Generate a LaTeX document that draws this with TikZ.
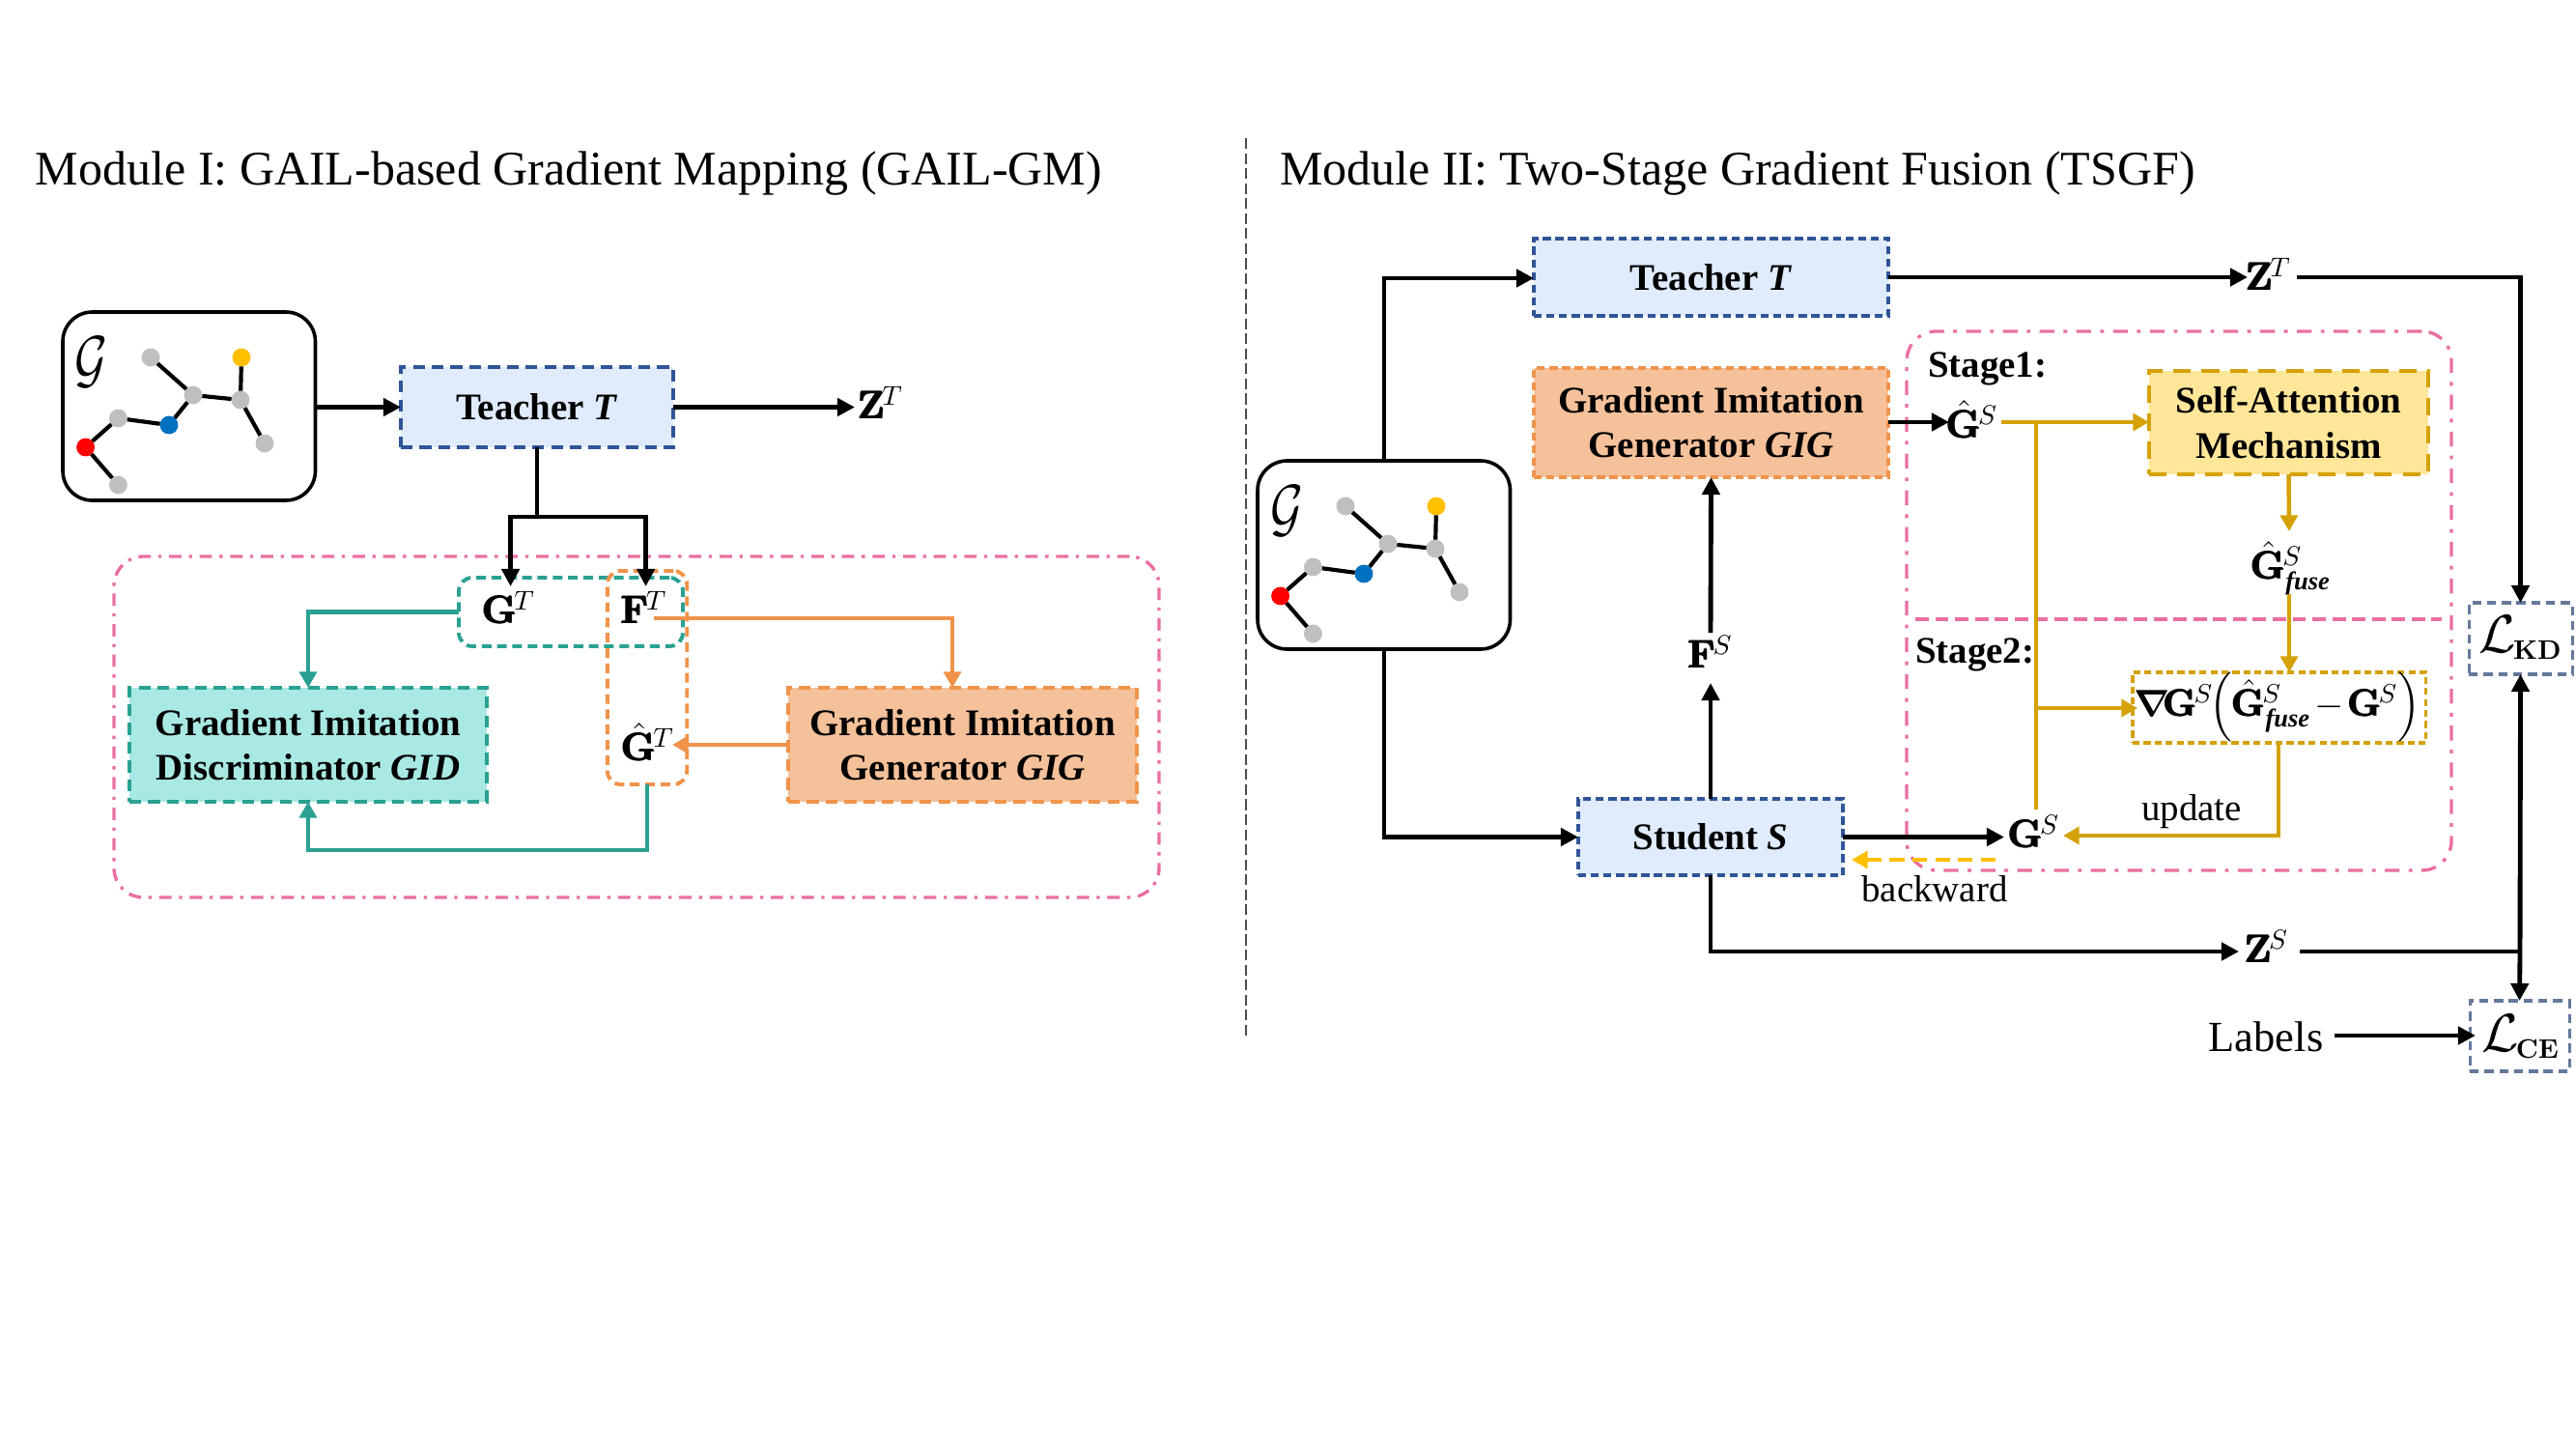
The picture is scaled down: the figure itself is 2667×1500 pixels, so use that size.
\RequirePackage{fix-cm}
\documentclass[tikz,border=0pt]{standalone}
\usepackage{amsmath}
\usepackage[no-math]{fontspec}
\setmainfont{Liberation Serif}
\usetikzlibrary{arrows.meta,calc}
\definecolor{cpink}{HTML}{EA6FA0}
\definecolor{cteal}{HTML}{2AA192}
\definecolor{ctealf}{HTML}{A9E9E3}
\definecolor{corange}{HTML}{F0934A}
\definecolor{corangef}{HTML}{F5C19A}
\definecolor{cblue}{HTML}{2F5597}
\definecolor{cbluef}{HTML}{E0EBFD}
\definecolor{cgold}{HTML}{D4A106}
\definecolor{cgoldf}{HTML}{FFE699}
\definecolor{cyel}{HTML}{FFC000}
\definecolor{cslate}{HTML}{64799B}
\definecolor{cgray}{HTML}{BFBFBF}
\definecolor{cnblue}{HTML}{0070C0}
\newcommand{\bsym}[1]{\pmb{\mathbf{#1}}}
\newcommand{\hsym}{{\smash[t]{\hat{\pmb{\mathbf{G}}}}}}
\newcommand{\fusesub}{\mbox{\bfseries\itshape\fontsize{9.5}{10}\selectfont fuse}}
\newcommand{\lossL}[1]{{\fontsize{20}{22}\selectfont$\mathcal{L}$}\kern-1pt\raisebox{-2.4pt}{\fontsize{10}{11}\selectfont$\mathbf{#1}$}}
\tikzset{
  sz/.style 2 args={minimum width=#1*0.36pt,minimum height=#2*0.36pt,inner sep=0pt,outer sep=0pt},
  dbox/.style={line width=1.1pt,dash pattern=on 4.4pt off 2.6pt,align=center,font=\bfseries\fontsize{14}{16.6}\selectfont},
  fine/.style={line width=1.2pt,dash pattern=on 3pt off 1.7pt},
  bluebox/.style={dbox,draw=cblue,fill=cbluef},
  oranbox/.style={dbox,draw=corange,fill=corangef},
  tealbox/.style={dbox,draw=cteal,fill=ctealf},
  goldbox/.style={dbox,draw=cgold,fill=cgoldf,line width=1.6pt,dash pattern=on 6.5pt off 4pt},
  mathbox/.style={line width=1.1pt,dash pattern=on 2.6pt off 1.5pt,draw=cgold},
  lossbox/.style={line width=1.1pt,dash pattern=on 3.4pt off 2.1pt,draw=cslate},
  pinkbox/.style={draw=cpink,line width=1.2pt,rounded corners=11pt,dash pattern=on 4.6pt off 2.8pt on 1.2pt off 2.8pt},
  tealround/.style={draw=cteal,line width=1.4pt,rounded corners=5pt,dash pattern=on 3.6pt off 2.1pt},
  oranround/.style={draw=corange,line width=1.4pt,rounded corners=5pt,dash pattern=on 3.6pt off 2.1pt},
  sym/.style={inner sep=0pt,outer sep=0pt,font=\fontsize{14.5}{16}\selectfont},
  lbl/.style={inner sep=0pt,outer sep=0pt,font=\fontsize{14}{16}\selectfont},
  title/.style={inner sep=0pt,outer sep=0pt,anchor=west,font=\fontsize{18}{20}\selectfont},
  blk/.style={line width=1.75pt,-{Triangle[length=6.5pt,width=6.5pt]}},
  blkn/.style={line width=1.75pt},
  tealar/.style={draw=cteal,line width=1.5pt,-{Triangle[length=6pt,width=6.4pt]}},
  oranar/.style={draw=corange,line width=1.5pt,-{Triangle[length=6pt,width=6.4pt]}},
  goldar/.style={draw=cgold,line width=1.6pt,-{Triangle[length=6pt,width=6.4pt]}},
  goldn/.style={draw=cgold,line width=1.6pt},
  atom/.style={circle,minimum size=6.8pt,inner sep=0pt,outer sep=0pt,fill=#1},
  bond/.style={line width=1.5pt},
  gbox/.style={draw=black,line width=1.3pt,rounded corners=11pt,fill=white}
}
\newcommand{\molgraph}[3]{%
\begin{scope}[shift={(#2,#3)}]
  \node[gbox,sz={261.5}{195}] (#1) at (195.75,420.5) {};
  \node[sym,font=\fontsize{24}{26}\selectfont,xscale=0.78] (#1l) at (95,375) {$\mathcal{G}$};
  \node[atom=cgray] (#1a) at (156,370) {};
  \node[atom=cyel] (#1b) at (250,370) {};
  \node[atom=cgray] (#1c) at (200,409) {};
  \node[atom=cgray] (#1d) at (249,414) {};
  \node[atom=cgray] (#1e) at (274,459) {};
  \node[atom=cgray] (#1f) at (122.4,433) {};
  \node[atom=cnblue] (#1g) at (175,440) {};
  \node[atom=red] (#1h) at (88.6,463) {};
  \node[atom=cgray] (#1i) at (122.4,502) {};
  \draw[bond] (#1a) -- (#1c);
  \draw[bond] (#1b) -- (#1d);
  \draw[bond] (#1c) -- (#1d);
  \draw[bond] (#1d) -- (#1e);
  \draw[bond] (#1c) -- (#1g);
  \draw[bond] (#1f) -- (#1g);
  \draw[bond] (#1f) -- (#1h);
  \draw[bond] (#1h) -- (#1i);
\end{scope}}
\begin{document}
\begin{tikzpicture}[x=0.36pt,y=-0.36pt]
\useasboundingbox (0,0) rectangle (2667,1500);
% titles and divider
\node[title] (ttl) at (37,180) {Module I: GAIL-based Gradient Mapping (GAIL-GM)};
\node[title] (ttr) at (1325,180) {Module II: Two-Stage Gradient Fusion (TSGF)};
\coordinate (divt) at (1290,143);
\coordinate (divb) at (1290,1072);
\draw[black!70,line width=0.5pt,dash pattern=on 4pt off 1.6pt] (divt) -- (divb);
% ---------- left ----------
\node[pinkbox,sz={1082}{353}] (pl) at (659,752.5) {};
\molgraph{ga}{0}{0}
\node[bluebox,sz={282}{83}] (t1) at (556,421.5) {Teacher \textit{T}};
\node[tealbox,sz={370}{118}] (gid) at (319,771) {Gradient Imitation\\Discriminator \textit{GID}};
\node[oranbox,sz={361}{118}] (gig1) at (996.5,771) {Gradient Imitation\\Generator \textit{GIG}};
\node[sym] (zt1) at (912,417) {$\bsym{Z}^{\mkern-2mu T}$};
\node[tealround,sz={232}{71}] (gf) at (591,633.5) {};
\node[oranround,sz={82.4}{221}] (fg) at (670,701.5) {};
\node[sym] (gt) at (527,629) {$\bsym{G}^{\mkern-2mu T}$};
\node[sym] (ft) at (667,629) {$\bsym{F}^{\mkern-2mu T}$};
\node[sym] (ght) at (671,771) {$\hsym^{\mkern-2mu T}$};
\coordinate (a1) at (885,421.5);
\coordinate (tb) at (556,535);
\coordinate (gte) at (528.6,607);
\coordinate (fte) at (668.6,607);
\coordinate (fto) at (677,640);
\coordinate (gign) at (986,712);
\coordinate (ghe) at (696,771);
\coordinate (tb2) at (670,880);
\draw[blk] (ga.east |- t1.west) -- (t1.west);
\draw[blk] (t1.east) -- (a1);
\draw[blkn] (t1.south) -- (tb);
\draw[blk] (tb) -| (gte);
\draw[blk] (tb) -| (fte);
\draw[tealar] (gf.west) -| (gid.north);
\draw[oranar] (fto) -| (gign);
\draw[oranar] (gig1.west |- ghe) -- (ghe);
\draw[tealar] (fg.south) -- (tb2) -| (gid.south);
% ---------- right ----------
\node[pinkbox,dash pattern=on 5.5pt off 3.4pt on 1.4pt off 3.4pt,sz={564}{558}] (pr) at (2256,622) {};
\coordinate (sl) at (1983,641);
\coordinate (sr) at (2528,641);
\draw[cpink,line width=1.3pt,dash pattern=on 5pt off 2.4pt] (sl) -- (sr);
\molgraph{gb}{1237}{154}
\node[bluebox,fine,sz={367}{80}] (t2) at (1771.5,287) {Teacher \textit{T}};
\node[oranbox,fine,sz={367}{113}] (gig2) at (1771.5,437.5) {Gradient Imitation\\Generator \textit{GIG}};
\node[bluebox,fine,sz={274}{79}] (st) at (1771,866.5) {Student \textit{S}};
\node[goldbox,sz={289}{107}] (sa) at (2369.5,437.5) {Self-Attention\\Mechanism};
\node[mathbox,sz={303.5}{73}] (nab) at (2359.7,732.5) {};
\node[sym,font=\fontsize{14}{16}\selectfont] (nabt) at (2358,732) {$\boldsymbol{\nabla}\mkern-3mu\bsym{G}^{\mkern-2mu S}\mkern-2mu\Bigl(\hsym^{\mkern-2mu S}_{\fusesub}\mkern-2mu-\mkern-2mu\bsym{G}^{\mkern-2mu S}\Bigr)$};
\node[lossbox,sz={107}{74}] (lkd) at (2609.5,661) {};
\node[sym] (lkdt) at (2609,660) {\lossL{KD}};
\node[lossbox,sz={103}{73}] (lce) at (2608.5,1072.5) {};
\node[sym] (lcet) at (2609,1073) {\lossL{CE}};
\node[sym] (zt2) at (2349,284) {$\bsym{Z}^{\mkern-2mu T}$};
\node[sym] (zs) at (2347,980) {$\bsym{Z}^{\mkern-2mu S}$};
\node[sym] (fs) at (1771,675) {$\bsym{F}^{\mkern-2mu S}$};
\node[sym] (gs) at (2106,861) {$\bsym{G}^{\mkern-2mu S}$};
\node[sym] (ghs) at (2042,437) {$\hsym^{\mkern-2mu S}$};
\node[sym] (ghf) at (2372,591) {$\hsym^{\mkern-2mu S}_{\fusesub}$};
\node[lbl,font=\bfseries\fontsize{14}{16}\selectfont,anchor=west] (s1) at (1996,382) {Stage1:};
\node[lbl,font=\bfseries\fontsize{14}{16}\selectfont,anchor=west] (s2) at (1983,678) {Stage2:};
\node[lbl] (upd) at (2269,840) {update};
\node[lbl] (bw) at (2003,920) {backward};
\node[lbl,font=\fontsize{16}{18}\selectfont] (lab) at (2346,1073) {Labels};
% connectors right
\coordinate (up) at (1433,288);
\coordinate (zt2in) at (2327,287);
\coordinate (zt2out) at (2378,287);
\coordinate (dn) at (1433,866.5);
\coordinate (fsb) at (1771,707);
\coordinate (fst) at (1771,655);
\coordinate (gse) at (2075,866.5);
\coordinate (gsr) at (2136,865);
\coordinate (bw1) at (2066,890);
\coordinate (bw2) at (1917,890);
\coordinate (g0) at (2072,437);
\coordinate (g1) at (2108,437);
\coordinate (g2) at (2108,838);
\coordinate (g3) at (2108,733);
\coordinate (g4) at (2213,733);
\coordinate (h1) at (2018,437);
\coordinate (d1) at (2370,550);
\coordinate (d2) at (2370,615);
\coordinate (u1) at (2359,865);
\coordinate (u0) at (2359,769);
\coordinate (zb) at (1771,985);
\coordinate (zsin) at (2318,985);
\coordinate (zsout) at (2381,985);
\coordinate (zj) at (2609,985);
\coordinate (lbo) at (2417,1072);
\coordinate (lbe) at (2563,1072);
\draw[blk] (gb.north -| up) -- (up) -- (t2.west |- up);
\draw[blk] (gb.south -| dn) -- (dn) -- (st.west);
\draw[blk] (t2.east) -- (zt2in);
\draw[blk] (zt2out) -| (lkd.north);
\draw[blk] (gig2.east |- h1) -- (h1);
\draw[blk] (st.north) -- (fsb);
\draw[blk] (fst) -- (gig2.south);
\draw[blk] (st.east) -- (gse);
\draw[blk] (st.south) -- (zb) -- (zsin);
\draw[blkn] (zsout) -- (zj);
\draw[blk] (zj) -- (lkd.south);
\draw[blk] (zj) -- (lce.north);
\draw[blk] (lbo) -- (lbe);
\draw[goldar] (g0) -- (g0 -| sa.west);
\draw[goldn] (g1) -- (g2);
\draw[goldar] (g3) -- (g4);
\draw[goldar] (sa.south) -- (d1);
\draw[goldar] (d2) -- (d2 |- nab.north);
\draw[goldar] (u0) -- (u1) -- (gsr);
\draw[cyel,line width=1.6pt,dash pattern=on 5.5pt off 3pt,-{Triangle[length=6pt,width=6.4pt]}] (bw1) -- (bw2);
\end{tikzpicture}
\end{document}
